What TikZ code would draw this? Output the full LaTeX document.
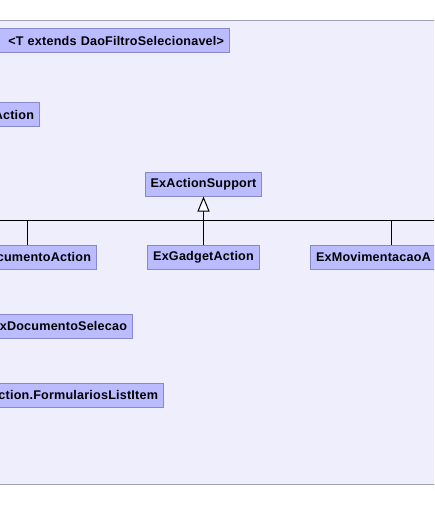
\documentclass[tikz,border=0pt]{standalone}
\usepackage{fontspec}
\setmainfont{Liberation Sans}
\newfontfamily\umlfont[LetterSpace=1.6]{Liberation Sans}
\usetikzlibrary{arrows.meta, positioning}
\definecolor{panelbg}{RGB}{238,238,252}
\definecolor{panelline}{RGB}{160,160,180}
\definecolor{classbg}{RGB}{187,187,255}
\definecolor{classline}{RGB}{136,136,204}

\begin{document}
\begin{tikzpicture}[x=1pt, y=-1pt,
    classbox/.style={draw=classline, fill=classbg, line width=1pt, inner xsep=5.5pt, inner ysep=0pt,
        minimum height=24pt, font=\umlfont\fontsize{12.6}{14}\selectfont\bfseries},
    cutleft/.style={classbox, anchor=east, text width=#1, align=right},
    cutright/.style={classbox, anchor=west, text width=#1, align=left},
    inherit/.style={line width=1pt, -{Triangle[width=12pt, length=15pt, fill=white]}}]

    \useasboundingbox (0,0) rectangle (434,522);
    \clip (0,0) rectangle (434,522);

    % panel
    \fill[panelbg] (-5,20) rectangle (440,484);
    \draw[panelline, line width=1pt] (-5,20) -- (440,20) (-5,484) -- (440,484);

    % classes
    \node[cutleft=240pt] (sel) at (230,40.5) {<T extends DaoFiltroSelecionavel>};
    \node[cutleft=60pt] (act) at (40,114.5) {Action};
    \node[classbox] (support) at (203.5,184) {ExActionSupport};
    \node[cutleft=110pt] (docAction) at (97,257) {cumentoAction};
    \node[classbox] (gadget) at (203.5,257) {ExGadgetAction};
    \node[cutright=150pt] (movim) at (310,257) {ExMovimentacaoA};
    \node[cutleft=140pt] (docSel) at (133,326) {xDocumentoSelecao};
    \node[cutleft=170pt] (formItem) at (164,395) {ction.FormulariosListItem};

    % generalisation bus
    \coordinate (busL) at (-5,220);
    \coordinate (busR) at (440,220);
    \coordinate (dropL) at (27,220);
    \coordinate (dropR) at (391,220);
    \draw[line width=1pt] (busL) -- (busR);
    \draw[line width=1pt] (dropL) -- (dropL |- docAction.north);
    \draw[line width=1pt] (dropR) -- (dropR |- movim.north);
    \draw[inherit] (gadget.north) -- (support.south);
\end{tikzpicture}
\end{document}
